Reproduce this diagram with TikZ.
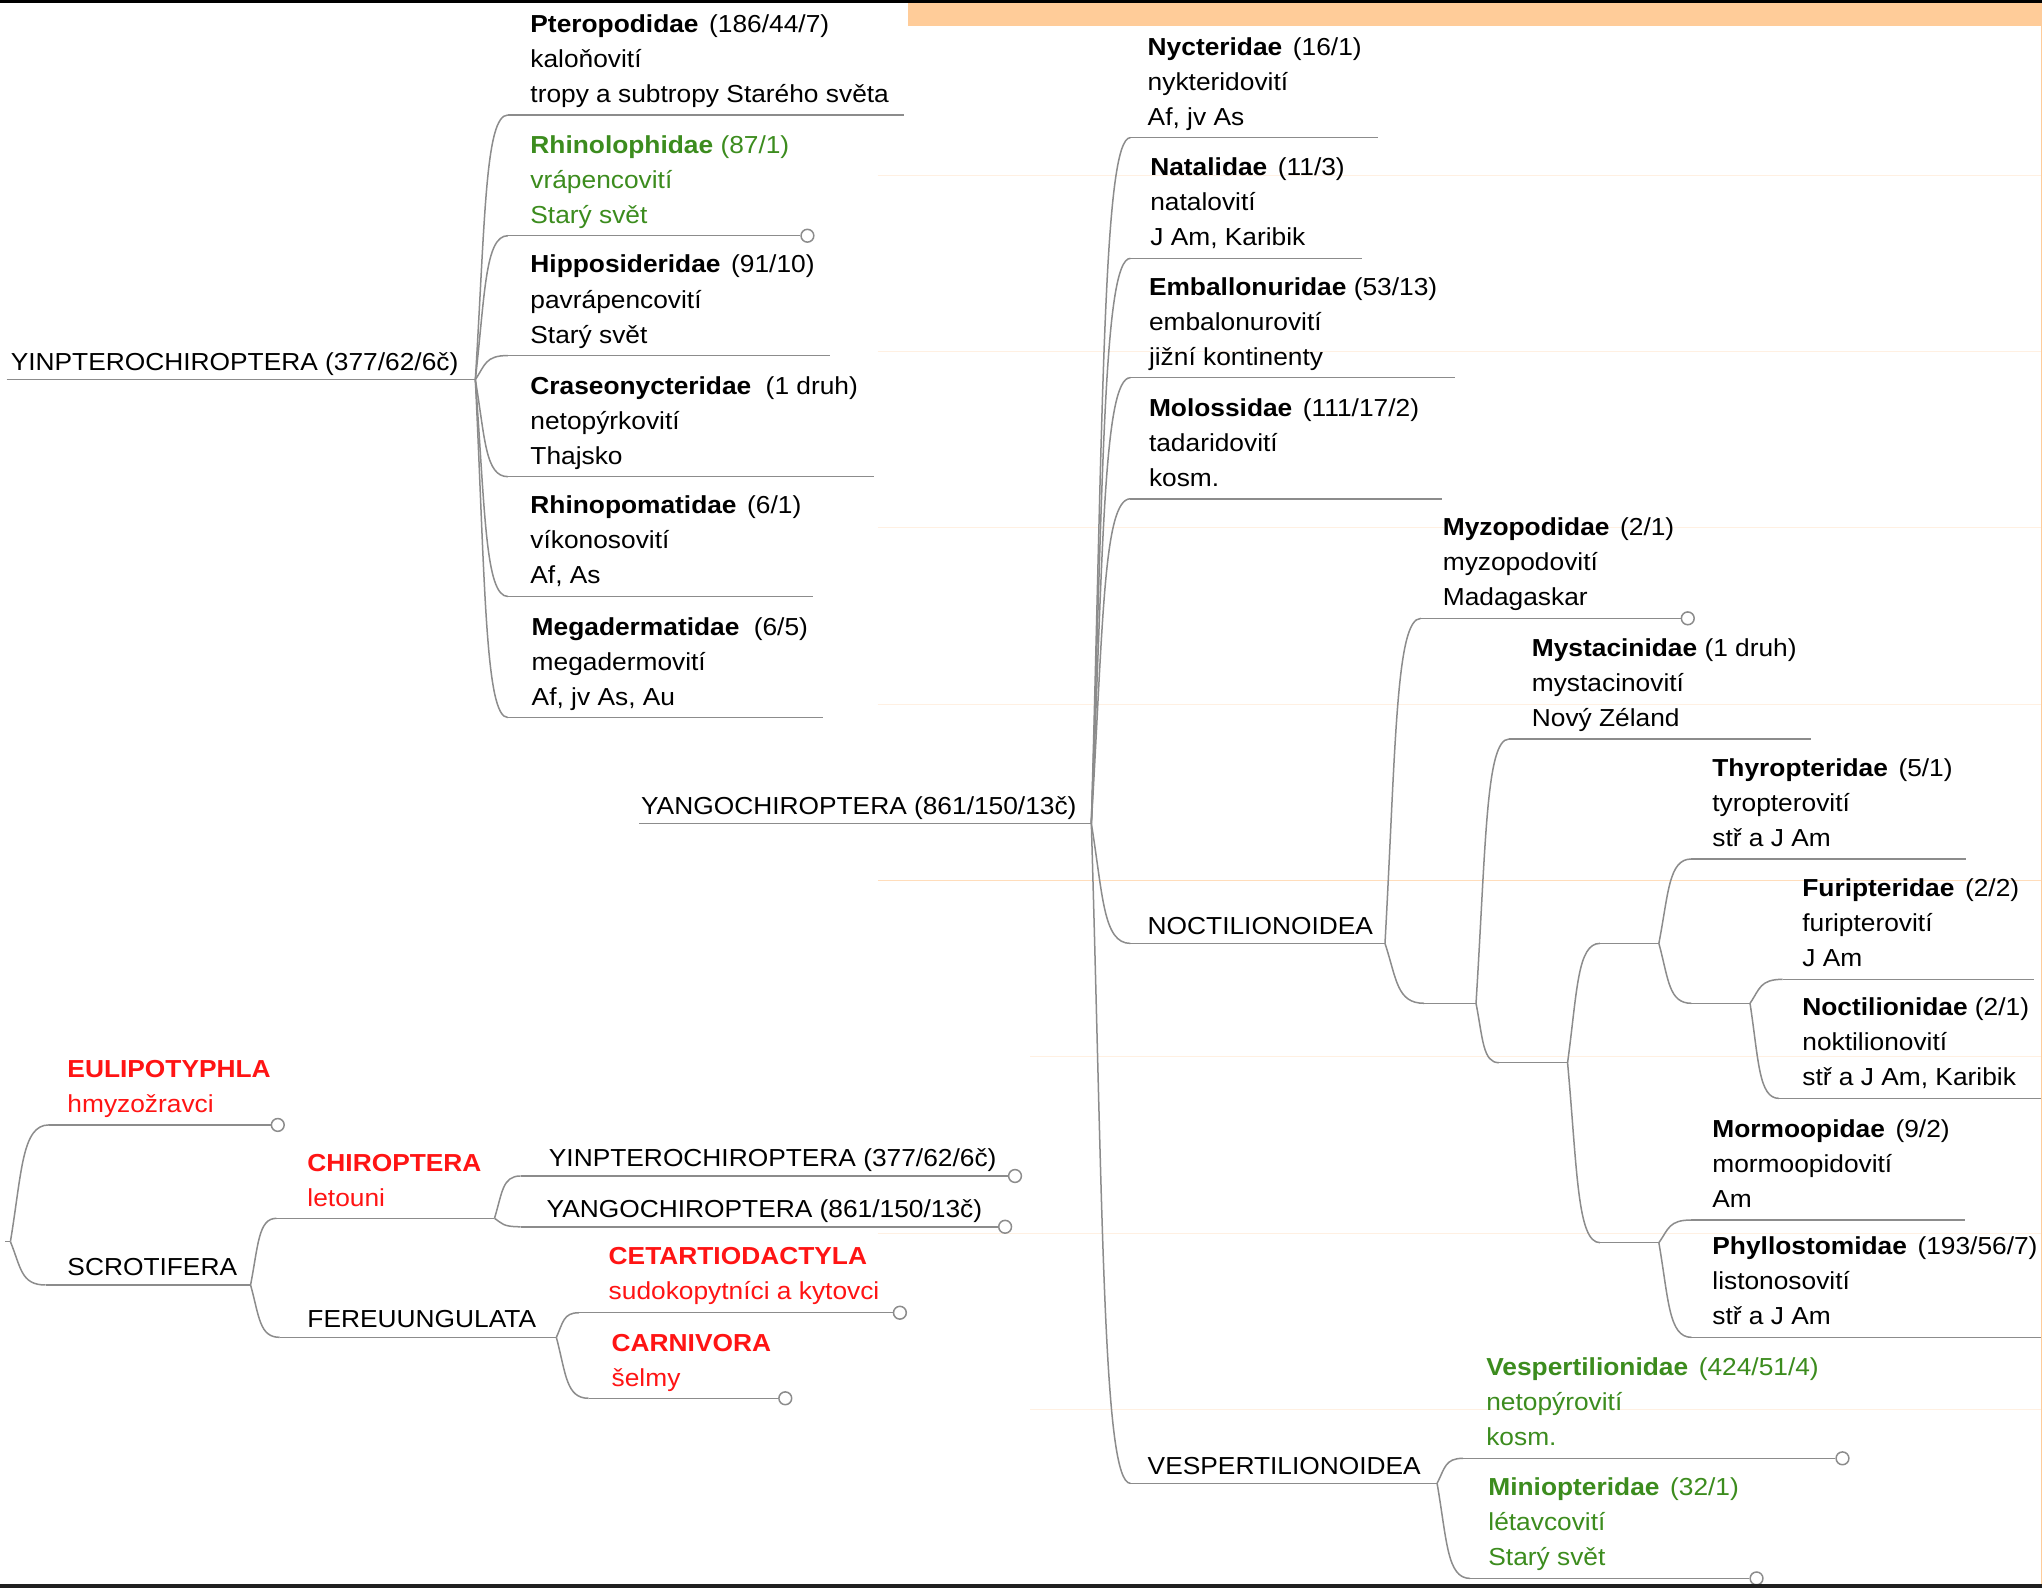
\documentclass[tikz,border=0pt]{standalone}
\usepackage{fontspec}
\setmainfont{Liberation Sans}[FakeStretch=1.07]
\usetikzlibrary{calc}
\definecolor{linegray}{HTML}{8C8C8C}
\definecolor{redt}{HTML}{FF1414}
\definecolor{greent}{HTML}{3C8C1E}
\definecolor{peach}{HTML}{FFCC99}
\definecolor{faintor}{HTML}{FFF0E2}
\definecolor{midor}{HTML}{FFDDBB}
\newcommand\gA{\hspace{5.3pt}}
\newcommand\gB{\hspace{7.2pt}}
% three-line taxon block: [style]{name}{x}{underline y}{line1}{line2}{line3}
\newcommand\tblock[7][]{%
  \node[txt,#1] (#2-a) at (#3,{#4-63.4}) {#5};
  \node[txt,#1] (#2-b) at (#3,{#4-36.5}) {#6};
  \node[txt,#1] (#2-c) at (#3,{#4-9.6}) {#7};}
% curved branch from parent end to child start
\newcommand\brlink[2]{\draw[link] let \p1=(#1), \p2=(#2) in (\p1) .. controls ({\x1+0.3*(\x2-\x1)},{\y1+0.6*(\y2-\y1)}) and ({\x1+0.3*(\x2-\x1)},\y2) .. (\p2);}
\begin{document}
\begin{tikzpicture}[x=0.6512pt,y=-0.6512pt,
  txt/.style={anchor=base west,inner sep=0pt,font=\fontsize{12.3}{15}\selectfont,text=black},
  link/.style={draw=linegray,line width=0.75pt},
  endc/.style={circle,draw=linegray,line width=0.75pt,fill=white,minimum size=6.4pt,inner sep=0pt},
  redb/.style={text=redt,font=\fontsize{12.3}{15}\selectfont\bfseries},
  redn/.style={text=redt},
  grn/.style={text=greent}]
\useasboundingbox (0,0) rectangle (1568,1219);
\fill[white] (0,0) rectangle (1568,1219);
% faint ruled background lines
\foreach \yy in {135,270,405,541,947}
  \draw[faintor,line width=0.6pt] (674,\yy) -- (1567,\yy);
\draw[midor,line width=0.6pt] (674,676) -- (1567,676);
\foreach \yy in {811,1082}
  \draw[faintor,line width=0.6pt] (791,\yy) -- (1567,\yy);

% ===== Yinpterochiroptera =====
\node[txt] (yin) at (8,284.8) {YINPTEROCHIROPTERA (377/62/6č)};
\coordinate (yinA) at (5,291.5); \coordinate (yinB) at (365,291.5);
\draw[link] (yinA) -- (yinB);

\tblock{ptero}{407}{88.3}{\textbf{Pteropodidae}\gA(186/44/7)}{kaloňovití}{tropy a subtropy Starého světa}
\coordinate (pteroA) at (390,88.3); \coordinate (pteroB) at (694,88.3);
\tblock[grn]{rhinol}{407}{181}{\textbf{Rhinolophidae} (87/1)}{vrápencovití}{Starý svět}
\coordinate (rhinolA) at (390,181); \node[endc] (rhinolC) at (620,181) {};
\tblock{hippo}{407}{273}{\textbf{Hipposideridae}\gA(91/10)}{pavrápencovití}{Starý svět}
\coordinate (hippoA) at (390,273); \coordinate (hippoB) at (637,273);
\tblock{crase}{407}{366}{\textbf{Craseonycteridae}\gB(1 druh)}{netopýrkovití}{Thajsko}
\coordinate (craseA) at (390,366); \coordinate (craseB) at (671,366);
\tblock{rhinop}{407}{458}{\textbf{Rhinopomatidae}\gA(6/1)}{víkonosovití}{Af, As}
\coordinate (rhinopA) at (390,458); \coordinate (rhinopB) at (624,458);
\tblock{megad}{408}{551}{\textbf{Megadermatidae}\gB(6/5)}{megadermovití}{Af, jv As, Au}
\coordinate (megadA) at (390,551); \coordinate (megadB) at (632,551);

\draw[link] (pteroA) -- (pteroB);
\draw[link] (rhinolA) -- (rhinolC);
\draw[link] (hippoA) -- (hippoB);
\draw[link] (craseA) -- (craseB);
\draw[link] (rhinopA) -- (rhinopB);
\draw[link] (megadA) -- (megadB);
\foreach \c in {pteroA,rhinolA,hippoA,craseA,rhinopA,megadA} {\brlink{yinB}{\c}}

% ===== Yangochiroptera =====
\node[txt] (yang) at (492,625.5) {YANGOCHIROPTERA (861/150/13č)};
\coordinate (yangA) at (491,632.3); \coordinate (yangB) at (838,632.3);
\draw[link] (yangA) -- (yangB);

\tblock{nyct}{881}{105.7}{\textbf{Nycteridae}\gA(16/1)}{nykteridovití}{Af, jv As}
\coordinate (nyctA) at (868,105.7); \coordinate (nyctB) at (1058.5,105.7);
\tblock{natal}{883}{198.4}{\textbf{Natalidae}\gA(11/3)}{natalovití}{J Am, Karibik}
\coordinate (natalA) at (868,198.4); \coordinate (natalB) at (1046,198.4);
\tblock{emball}{882}{290}{\textbf{Emballonuridae} (53/13)}{embalonurovití}{jižní kontinenty}
\coordinate (emballA) at (868,290); \coordinate (emballB) at (1117,290);
\tblock{moloss}{882}{383}{\textbf{Molossidae}\gA(111/17/2)}{tadaridovití}{kosm.}
\coordinate (molossA) at (868,383); \coordinate (molossB) at (1107,383);
\node[txt] (noct) at (881,717.5) {NOCTILIONOIDEA};
\coordinate (noctA) at (868,724.4); \coordinate (noctB) at (1063.5,724.4);
\node[txt] (vesp) at (881,1132.2) {VESPERTILIONOIDEA};
\coordinate (vespA) at (868,1139); \coordinate (vespB) at (1103.5,1139);

\draw[link] (nyctA) -- (nyctB);
\draw[link] (natalA) -- (natalB);
\draw[link] (emballA) -- (emballB);
\draw[link] (molossA) -- (molossB);
\draw[link] (noctA) -- (noctB);
\draw[link] (vespA) -- (vespB);
\foreach \c in {nyctA,natalA,emballA,molossA,noctA,vespA} {\brlink{yangB}{\c}}

% --- Noctilionoidea ---
\tblock{myzo}{1107.6}{474.8}{\textbf{Myzopodidae}\gA(2/1)}{myzopodovití}{Madagaskar}
\coordinate (myzoA) at (1091,474.8); \node[endc] (myzoC) at (1296,474.8) {};
\tblock{mysta}{1176}{567.5}{\textbf{Mystacinidae} (1 druh)}{mystacinovití}{Nový Zéland}
\coordinate (mystaA) at (1158.7,567.5); \coordinate (mystaB) at (1390.4,567.5);
\tblock{thyro}{1314.6}{659.6}{\textbf{Thyropteridae}\gA(5/1)}{tyropterovití}{stř a J Am}
\coordinate (thyroA) at (1298.8,659.6); \coordinate (thyroB) at (1510,659.6);
\tblock{furip}{1383.7}{752}{\textbf{Furipteridae}\gA(2/2)}{furipterovití}{J Am}
\coordinate (furipA) at (1368.9,752); \coordinate (furipB) at (1561.7,752);
\tblock{noctid}{1383.7}{843.4}{\textbf{Noctilionidae} (2/1)}{noktilionovití}{stř a J Am, Karibik}
\coordinate (noctidA) at (1366,843.4); \coordinate (noctidB) at (1568,843.4);
\tblock{mormo}{1314.6}{936.8}{\textbf{Mormoopidae}\gA(9/2)}{mormoopidovití}{Am}
\coordinate (mormoA) at (1298.8,936.8); \coordinate (mormoB) at (1509,936.8);
\tblock{phyllo}{1314.6}{1026.9}{\textbf{Phyllostomidae}\gA(193/56/7)}{listonosovití}{stř a J Am}
\coordinate (phylloA) at (1298.8,1026.9); \coordinate (phylloB) at (1567,1026.9);

\coordinate (iAa) at (1093.6,770.4); \coordinate (iAb) at (1133.4,770.4);
\coordinate (iBa) at (1151,816);     \coordinate (iBb) at (1203.7,816);
\coordinate (iCa) at (1228.6,724.4); \coordinate (iCb) at (1273.8,724.4);
\coordinate (iDa) at (1228.6,954.2); \coordinate (iDb) at (1273.8,954.2);
\coordinate (iEa) at (1298.8,770.4); \coordinate (iEb) at (1343.8,770.4);

\draw[link] (myzoA) -- (myzoC);
\draw[link] (mystaA) -- (mystaB);
\draw[link] (thyroA) -- (thyroB);
\draw[link] (furipA) -- (furipB);
\draw[link] (noctidA) -- (noctidB);
\draw[link] (mormoA) -- (mormoB);
\draw[link] (phylloA) -- (phylloB);
\draw[link] (iAa) -- (iAb);
\draw[link] (iBa) -- (iBb);
\draw[link] (iCa) -- (iCb);
\draw[link] (iDa) -- (iDb);
\draw[link] (iEa) -- (iEb);
\brlink{noctB}{myzoA} \brlink{noctB}{iAa}
\brlink{iAb}{mystaA} \brlink{iAb}{iBa}
\brlink{iBb}{iCa} \brlink{iBb}{iDa}
\brlink{iCb}{thyroA} \brlink{iCb}{iEa}
\brlink{iEb}{furipA} \brlink{iEb}{noctidA}
\brlink{iDb}{mormoA} \brlink{iDb}{phylloA}

% --- Vespertilionoidea ---
\tblock[grn]{vespt}{1141}{1119.8}{\textbf{Vespertilionidae}\gA(424/51/4)}{netopýrovití}{kosm.}
\coordinate (vesptA) at (1123.4,1119.8); \node[endc] (vesptC) at (1414.8,1119.8) {};
\tblock[grn]{mini}{1142.6}{1212}{\textbf{Miniopteridae}\gA(32/1)}{létavcovití}{Starý svět}
\coordinate (miniA) at (1128.8,1212); \node[endc] (miniC) at (1348.8,1212) {};
\draw[link] (vesptA) -- (vesptC);
\draw[link] (miniA) -- (miniC);
\brlink{vespB}{vesptA} \brlink{vespB}{miniA}

% ===== Overview tree (bottom left) =====
\coordinate (rootT) at (4,953.4); \coordinate (root) at (8,953.4);
\draw[link] (rootT) -- (root);
\node[txt,redb] (eul-a) at (51.5,827.6) {EULIPOTYPHLA};
\node[txt,redn] (eul-b) at (51.5,854.2) {hmyzožravci};
\coordinate (eulA) at (37.5,863.8); \node[endc] (eulC) at (213.3,863.8) {};
\node[txt] (scrot) at (51.5,979.3) {SCROTIFERA};
\coordinate (scrotA) at (35,986.7); \coordinate (scrotB) at (192.4,986.7);
\node[txt,redb] (chir-a) at (235.8,899.4) {CHIROPTERA};
\node[txt,redn] (chir-b) at (235.8,926.2) {letouni};
\coordinate (chirA) at (212.3,935.5); \coordinate (chirB) at (379.7,935.5);
\node[txt] (yin2) at (421.2,895.4) {YINPTEROCHIROPTERA (377/62/6č)};
\coordinate (yin2A) at (399.7,903); \node[endc] (yin2C) at (779.4,903) {};
\node[txt] (yang2) at (419.5,934.7) {YANGOCHIROPTERA (861/150/13č)};
\coordinate (yang2A) at (399.7,942); \node[endc] (yang2C) at (771.8,942) {};
\node[txt] (fer) at (235.8,1019.1) {FEREUUNGULATA};
\coordinate (ferA) at (214.8,1026.9); \coordinate (ferB) at (427.2,1026.9);
\node[txt,redb] (ceta-a) at (467.1,970.9) {CETARTIODACTYLA};
\node[txt,redn] (ceta-b) at (467.1,997.8) {sudokopytníci a kytovci};
\coordinate (cetaA) at (444.6,1008); \node[endc] (cetaC) at (691,1008) {};
\node[txt,redb] (carn-a) at (469.4,1037.4) {CARNIVORA};
\node[txt,redn] (carn-b) at (469.4,1064.3) {šelmy};
\coordinate (carnA) at (452,1073.7); \node[endc] (carnC) at (603,1073.7) {};

\draw[link] (eulA) -- (eulC);
\draw[link] (scrotA) -- (scrotB);
\draw[link] (chirA) -- (chirB);
\draw[link] (yin2A) -- (yin2C);
\draw[link] (yang2A) -- (yang2C);
\draw[link] (ferA) -- (ferB);
\draw[link] (cetaA) -- (cetaC);
\draw[link] (carnA) -- (carnC);
\brlink{root}{eulA} \brlink{root}{scrotA}
\brlink{scrotB}{chirA} \brlink{scrotB}{ferA}
\brlink{chirB}{yin2A} \brlink{chirB}{yang2A}
\brlink{ferB}{cetaA} \brlink{ferB}{carnA}

% ===== frame =====
\fill[black] (0,0) rectangle (1568,2.4);
\fill[peach] (697,2.4) rectangle (1568,19.7);
\draw[peach,line width=0.6pt] (1567.4,19.7) -- (1567.4,1216.3);
\fill[black!88] (0,1216.4) rectangle (1568,1219);
\end{tikzpicture}
\end{document}
